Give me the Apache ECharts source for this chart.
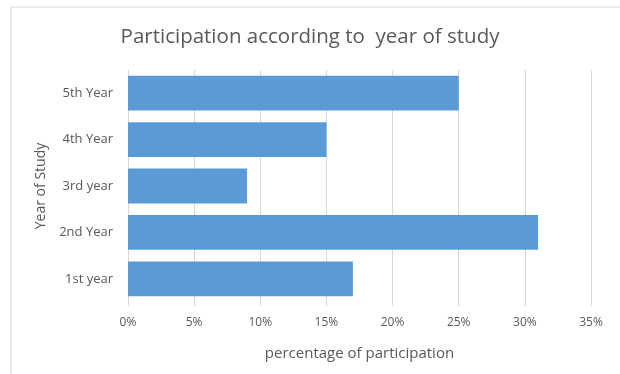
<!DOCTYPE html>
<html>
<head>
<meta charset="utf-8">
<script src="https://cdn.jsdelivr.net/npm/echarts@6/dist/echarts.min.js"></script>
<style>
  html, body { margin: 0; padding: 0; background: #fff; }
  #chart { width: 620px; height: 374px; }
</style>
</head>
<body>
<div id="chart"></div>
<script>
var categories = ['1st year', '2nd Year', '3rd year', '4th Year', '5th Year'];
var participation = [17, 31, 9, 15, 25];
var xTicks = [0, 5, 10, 15, 20, 25, 30, 35];

var chart = echarts.init(document.getElementById('chart'));
var font = '"Open Sans", "Noto Sans", sans-serif';

chart.setOption({
    animation: false,
    textStyle: { fontFamily: font },
    title: {
        text: 'Participation according to  year of study',
        left: 'center',
        top: 22,
        textStyle: { fontSize: 20.5, fontWeight: 'normal', color: '#595959', fontFamily: font }
    },
    graphic: [{
        type: 'rect',
        shape: { x: 11, y: 7, width: 620, height: 380 },
        style: { fill: 'none', stroke: '#d9d9d9', lineWidth: 1 },
        silent: true
    }],
    grid: { left: 128, right: 29, top: 70, bottom: 72 },
    xAxis: {
        type: 'value',
        min: xTicks[0],
        max: xTicks[xTicks.length - 1],
        interval: 5,
        name: 'percentage of participation',
        nameLocation: 'middle',
        nameGap: 44,
        nameTextStyle: { fontSize: 15, color: '#595959' },
        axisLine: { show: false },
        axisTick: { show: true, length: 4, lineStyle: { color: '#d9d9d9' } },
        axisLabel: { formatter: '{value}%', color: '#595959', fontSize: 12, margin: 15 },
        splitLine: { lineStyle: { color: '#d9d9d9' } }
    },
    yAxis: {
        type: 'category',
        data: categories,
        name: 'Year of Study',
        nameLocation: 'middle',
        nameGap: 78,
        nameTextStyle: { fontSize: 14, color: '#595959' },
        axisLine: { show: true, lineStyle: { color: '#d9d9d9' } },
        axisTick: { show: false },
        axisLabel: { color: '#595959', fontSize: 13, margin: 15 }
    },
    series: [{
        type: 'bar',
        data: participation,
        barCategoryGap: '25%',
        itemStyle: { color: '#5b9bd5' }
    }]
});
</script>
</body>
</html>
